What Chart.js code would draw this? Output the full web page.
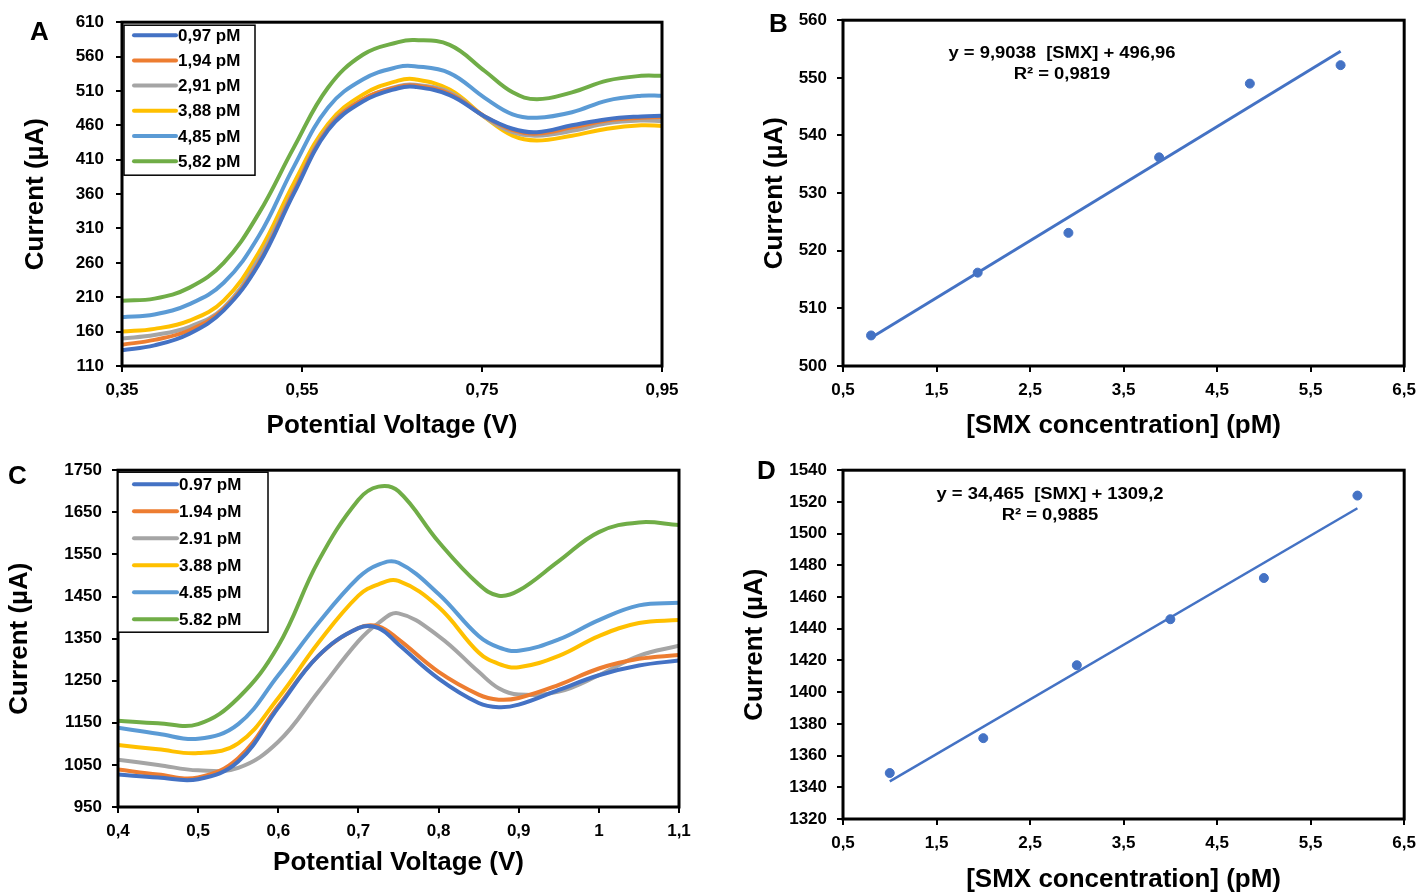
<!DOCTYPE html>
<html>
<head>
<meta charset="utf-8">
<script src="https://cdn.jsdelivr.net/npm/chart.js@4.4.1/dist/chart.umd.min.js"></script>
<style>
  body { margin: 0; background: #fff; width: 1424px; height: 895px; position: relative; overflow: hidden; }
  .panel { position: absolute; }
  .letter { position: absolute; font: bold 26px "Liberation Sans", Arial, sans-serif; color: #000; }
  .eq { position: absolute; width: 340px; margin-left: -170px; text-align: center;
        font: bold 16px/21px "Liberation Sans", Arial, sans-serif; color: #000; transform: scaleX(1.15); }
</style>
</head>
<body>
<div class="panel" style="left:0;top:0"><canvas id="chartA" width="700" height="445"></canvas></div>
<div class="panel" style="left:712px;top:0"><canvas id="chartB" width="712" height="445"></canvas></div>
<div class="panel" style="left:0;top:450px"><canvas id="chartC" width="700" height="445"></canvas></div>
<div class="panel" style="left:712px;top:450px"><canvas id="chartD" width="712" height="445"></canvas></div>

<div class="letter" style="left:30px;top:16px">A</div>
<div class="letter" style="left:769px;top:8px">B</div>
<div class="letter" style="left:8px;top:460px">C</div>
<div class="letter" style="left:757px;top:455px">D</div>

<div class="eq" style="left:1062px;top:42px">y = 9,9038&nbsp; [SMX] + 496,96<br>R² = 0,9819</div>
<div class="eq" style="left:1050px;top:483px">y = 34,465&nbsp; [SMX] + 1309,2<br>R² = 0,9885</div>

<script>
const colors = ["#4472C4", "#ED7D31", "#A5A5A5", "#FFC000", "#5B9BD5", "#70AD47"];

// panel A
const labelsA = ["0,97 pM", "1,94 pM", "2,91 pM", "3,88 pM", "4,85 pM", "5,82 pM"];
const voltsA = [0.35, 0.386, 0.425, 0.463, 0.502, 0.541, 0.579, 0.618, 0.657, 0.675, 0.714, 0.753, 0.784, 0.811, 0.85, 0.889, 0.927, 0.95];
const a097 = [133, 140, 157, 191, 258, 361, 453, 495, 514, 516, 504, 473, 455, 450, 460, 469, 473, 474];
const a194 = [141, 148, 162, 193, 260, 364, 455, 498, 516, 518, 506, 473, 453, 448, 457, 467, 471, 472];
const a291 = [150, 155, 167, 195, 266, 366, 457, 498, 517, 519, 508, 472, 450, 445, 452, 463, 467, 466];
const a388 = [160, 164, 176, 205, 275, 376, 462, 505, 525, 527, 512, 472, 445, 438, 445, 455, 460, 459];
const a485 = [181, 185, 200, 231, 299, 400, 486, 527, 545, 546, 536, 500, 476, 471, 479, 496, 503, 503];
const a582 = [205, 208, 224, 260, 332, 428, 515, 563, 581, 584, 577, 539, 508, 498, 508, 525, 532, 532];
const xTicksA = [0.35, 0.55, 0.75, 0.95];
const yTicksA = [110, 160, 210, 260, 310, 360, 410, 460, 510, 560, 610];

// panel B
const concB = [0.8, 1.94, 2.91, 3.88, 4.85, 5.82];
const currB = [505.3, 516.2, 523.1, 536.2, 549.0, 552.2];
const trendXB = [0.8, 5.82];
const trendYB = [504.9, 554.6];
const xTicksB = [0.5, 1.5, 2.5, 3.5, 4.5, 5.5, 6.5];
const yTicksB = [500, 510, 520, 530, 540, 550, 560];

// panel C
const labelsC = ["0.97 pM", "1.94 pM", "2.91 pM", "3.88 pM", "4.85 pM", "5.82 pM"];
const voltsC = [0.4, 0.45, 0.5, 0.55, 0.6, 0.65, 0.7, 0.725, 0.75, 0.8, 0.85, 0.875, 0.9, 0.95, 1.0, 1.05, 1.1];
const c097 = [1027, 1020, 1016, 1058, 1186, 1309, 1375, 1375, 1336, 1255, 1197, 1187, 1193, 1228, 1263, 1286, 1298];
const c194 = [1039, 1027, 1020, 1066, 1190, 1309, 1375, 1379, 1348, 1271, 1217, 1205, 1209, 1240, 1279, 1302, 1311];
const c291 = [1062, 1050, 1037, 1043, 1105, 1224, 1344, 1387, 1410, 1356, 1271, 1232, 1217, 1224, 1263, 1309, 1333];
const c388 = [1097, 1087, 1078, 1101, 1209, 1340, 1452, 1479, 1487, 1425, 1317, 1290, 1282, 1309, 1356, 1387, 1394];
const c485 = [1138, 1124, 1112, 1147, 1263, 1387, 1495, 1526, 1530, 1456, 1356, 1329, 1321, 1348, 1394, 1429, 1435];
const c582 = [1155, 1149, 1147, 1209, 1333, 1534, 1680, 1711, 1700, 1580, 1479, 1452, 1464, 1534, 1603, 1626, 1620];
const xTicksC = [0.4, 0.5, 0.6, 0.7, 0.8, 0.9, 1.0, 1.1];
const yTicksC = [950, 1050, 1150, 1250, 1350, 1450, 1550, 1650, 1750];

// panel D
const concD = [1, 2, 3, 4, 5, 6];
const currD = [1349, 1371, 1417, 1446, 1472, 1524];
const trendXD = [1, 6];
const trendYD = [1343.7, 1516];
const xTicksD = [0.5, 1.5, 2.5, 3.5, 4.5, 5.5, 6.5];
const yTicksD = [1320, 1340, 1360, 1380, 1400, 1420, 1440, 1460, 1480, 1500, 1520, 1540];

const FONT = "'Liberation Sans', Arial, sans-serif";
const comma = (v) => String(Math.round(v * 100) / 100).replace(".", ",");

// thick black box round the plot area
const frame = {
  id: "frame",
  afterDraw(chart) {
    const { ctx, chartArea: a } = chart;
    ctx.save();
    ctx.strokeStyle = "#000";
    ctx.lineWidth = 3;
    ctx.strokeRect(a.left, a.top, a.right - a.left, a.bottom - a.top);
    ctx.restore();
  },
};

// boxed legend in the top-left corner, Excel style
const boxLegend = {
  id: "boxLegend",
  afterDraw(chart, args, o) {
    if (!o.show) return;
    const { ctx, chartArea: a } = chart;
    const x = a.left + o.dx, y = a.top + o.dy;
    ctx.save();
    ctx.fillStyle = "#fff";
    ctx.fillRect(x, y, o.w, o.h);
    ctx.strokeStyle = "#000";
    ctx.lineWidth = 1.5;
    ctx.strokeRect(x, y, o.w, o.h);
    ctx.font = "bold " + o.size + "px " + FONT;
    ctx.textBaseline = "middle";
    chart.data.datasets.forEach((ds, i) => {
      const cy = y + o.first + i * o.row;
      ctx.strokeStyle = ds.borderColor;
      ctx.lineWidth = 4;
      ctx.lineCap = "round";
      ctx.beginPath();
      ctx.moveTo(x + o.lineX, cy);
      ctx.lineTo(x + o.lineX + o.lineLen, cy);
      ctx.stroke();
      ctx.fillStyle = "#000";
      ctx.fillText(ds.label, x + o.lineX + o.lineLen + 2, cy + 1);
    });
    ctx.restore();
  },
};

function axis(opts) {
  return {
    type: "linear",
    min: opts.ticks[0],
    max: opts.ticks[opts.ticks.length - 1],
    afterBuildTicks: (s) => { s.ticks = opts.ticks.map((v) => ({ value: v })); },
    afterFit: (s) => { if (opts.horiz) s.height = opts.size; else s.width = opts.size; },
    border: { display: false },
    grid: { drawOnChartArea: false, drawTicks: true, tickLength: 6, color: "#000", lineWidth: 2 },
    ticks: {
      color: "#000",
      padding: opts.pad,
      maxRotation: 0,
      autoSkip: false,
      font: { family: FONT, size: 17, weight: "bold" },
      callback: opts.fmt || ((v) => String(v)),
    },
    title: {
      display: true,
      text: opts.title,
      color: "#000",
      font: { family: FONT, size: 26, weight: "bold", lineHeight: 1.2 },
      padding: opts.horiz ? { top: 0, bottom: opts.titlePad } : { top: opts.titlePad, bottom: 0 },
    },
  };
}

function curveChart(id, xs, series, labels, layout, legend) {
  new Chart(document.getElementById(id), {
    type: "line",
    data: {
      datasets: series.map((ys, i) => ({
        label: labels[i],
        data: xs.map((x, j) => ({ x, y: ys[j] })),
        borderColor: colors[i],
        borderWidth: 4,
        pointRadius: 0,
        tension: 0.4,
        fill: false,
      })),
    },
    options: {
      responsive: false,
      animation: false,
      layout: { padding: layout.padding },
      plugins: { legend: { display: false }, tooltip: { enabled: false }, boxLegend: legend },
      scales: { x: layout.x, y: layout.y },
    },
    plugins: [frame, boxLegend],
  });
}

function fitChart(id, xs, ys, tx, ty, layout, trendWidth) {
  new Chart(document.getElementById(id), {
    type: "scatter",
    data: {
      datasets: [
        {
          data: xs.map((x, i) => ({ x, y: ys[i] })),
          backgroundColor: "#4472C4",
          borderColor: "#4472C4",
          pointRadius: 4.5,
        },
        {
          type: "line",
          data: tx.map((x, i) => ({ x, y: ty[i] })),
          borderColor: "#4472C4",
          borderWidth: trendWidth,
          pointRadius: 0,
          fill: false,
        },
      ],
    },
    options: {
      responsive: false,
      animation: false,
      layout: { padding: layout.padding },
      plugins: { legend: { display: false }, tooltip: { enabled: false }, boxLegend: { show: false } },
      scales: { x: layout.x, y: layout.y },
    },
    plugins: [frame, boxLegend],
  });
}

curveChart("chartA", voltsA, [a097, a194, a291, a388, a485, a582], labelsA, {
  padding: { left: 0, top: 19, right: 38, bottom: 0 },
  x: axis({ horiz: true, ticks: xTicksA, size: 79, pad: 8, title: "Potential Voltage (V)", titlePad: 4,
    fmt: (v) => v.toFixed(2).replace(".", ",") }),
  y: axis({ ticks: yTicksA, size: 122, pad: 12, title: "Current (µA)", titlePad: 20 }),
}, { show: true, dx: 2, dy: 3, w: 131, h: 150, first: 10, row: 25.2, lineX: 10, lineLen: 42, size: 17 });

fitChart("chartB", concB, currB, trendXB, trendYB, {
  padding: { left: 0, top: 19, right: 14, bottom: 0 },
  x: axis({ horiz: true, ticks: xTicksB, size: 79, pad: 8, title: "[SMX concentration] (pM)", titlePad: 4, fmt: comma }),
  y: axis({ ticks: yTicksB, size: 131, pad: 10, title: "Current (µA)", titlePad: 47 }),
}, 3);

curveChart("chartC", voltsC, [c097, c194, c291, c388, c485, c582], labelsC, {
  padding: { left: 0, top: 11, right: 21, bottom: 0 },
  x: axis({ horiz: true, ticks: xTicksC, size: 88, pad: 8, title: "Potential Voltage (V)", titlePad: 17, fmt: comma }),
  y: axis({ ticks: yTicksC, size: 118, pad: 10, title: "Current (µA)", titlePad: 4 }),
}, { show: true, dx: 0, dy: 2, w: 150, h: 160, first: 12, row: 27, lineX: 16, lineLen: 43, size: 17 });

fitChart("chartD", concD, currD, trendXD, trendYD, {
  padding: { left: 0, top: 15, right: 14, bottom: 0 },
  x: axis({ horiz: true, ticks: xTicksD, size: 76, pad: 8, title: "[SMX concentration] (pM)", titlePad: 0, fmt: comma }),
  y: axis({ ticks: yTicksD, size: 131, pad: 10, title: "Current (µA)", titlePad: 27 }),
}, 2.5);
</script>
</body>
</html>
